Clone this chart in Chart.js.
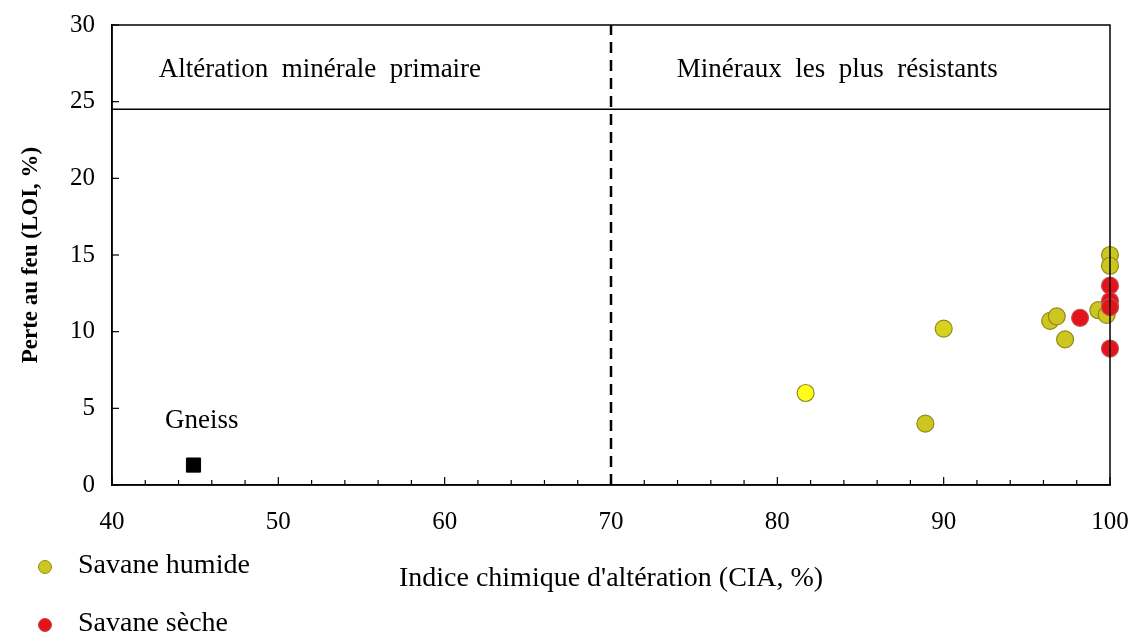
<!DOCTYPE html>
<html>
<head>
<meta charset="utf-8">
<script src="https://cdn.jsdelivr.net/npm/chart.js@4.4.0/dist/chart.umd.min.js"></script>
<style>
  body { margin: 0; background: #fff; }
</style>
</head>
<body>
<canvas id="graficoCIA" width="1137" height="643"></canvas>
<script>
var serif = '"Liberation Serif", "Times New Roman", serif'

// Savane humide (CIA, LOI)
var humideCIA = [81.7, 88.9, 90.0, 96.4, 96.8, 97.3, 99.3, 99.8, 100, 100]
var humideLOI = [6.0, 4.0, 10.2, 10.7, 11.0, 9.5, 11.4, 11.1, 15.0, 14.3]
var humideCor = ['#ffff1a', '#cdc61e', '#d6d21e', '#cdc61e', '#cdc61e', '#cdc61e', '#cdc61e', '#cdc61e', '#cdc61e', '#cdc61e']

// Savane sèche
var secheCIA = [98.2, 100, 100, 100, 100]
var secheLOI = [10.9, 13.0, 12.0, 11.6, 8.9]

// roche mère
var gneissCIA = [44.9]
var gneissLOI = [1.3]

var limiteCIA = 70
var limiteBoite = 24.5

var xTicks = [40, 50, 60, 70, 80, 90, 100]
var yTicks = [0, 5, 10, 15, 20, 25, 30]

function pontos(xs, ys) {
  var lista = []
  for (var i = 0; i < xs.length; i++) {
    lista.push({ x: xs[i], y: ys[i] })
  }
  return lista
}

// textes, marques internes et légende
var extras = {
  id: 'extras',
  afterDraw: function (chart) {
    var ctx = chart.ctx
    var area = chart.chartArea
    var sx = chart.scales.x
    var sy = chart.scales.y
    ctx.save()

    ctx.strokeStyle = '#000'
    ctx.lineWidth = 1.5
    ctx.strokeRect(area.left, area.top, area.right - area.left, area.bottom - area.top)

    // petites marques vers l'intérieur
    ctx.lineWidth = 1.2
    for (var v = 40; v <= 100; v += 2) {
      var px = sx.getPixelForValue(v)
      var len = (v % 10 == 0) ? 8 : 5
      ctx.beginPath()
      ctx.moveTo(px, area.bottom)
      ctx.lineTo(px, area.bottom - len)
      ctx.stroke()
    }
    for (var j = 0; j < yTicks.length; j++) {
      var py = sy.getPixelForValue(yTicks[j])
      ctx.beginPath()
      ctx.moveTo(area.left, py)
      ctx.lineTo(area.left + 7, py)
      ctx.stroke()
    }

    ctx.fillStyle = '#000'
    ctx.font = '27px ' + serif
    ctx.textAlign = 'center'
    ctx.textBaseline = 'middle'
    ctx.fillText('Altération  minérale  primaire', sx.getPixelForValue(52.5), sy.getPixelForValue(27.1))
    ctx.fillText('Minéraux  les  plus  résistants', sx.getPixelForValue(83.6), sy.getPixelForValue(27.1))
    ctx.fillText('Gneiss', sx.getPixelForValue(45.4), sy.getPixelForValue(4.2))

    // légende
    var legenda = [
      { nome: 'Savane humide', fundo: '#cdc61e', borda: '#8f8a1c', y: 567 },
      { nome: 'Savane sèche', fundo: '#e3131b', borda: '#c04848', y: 625 }
    ]
    ctx.font = '28px ' + serif
    ctx.textAlign = 'left'
    for (var k = 0; k < legenda.length; k++) {
      ctx.beginPath()
      ctx.arc(45, legenda[k].y, 6.5, 0, Math.PI * 2)
      ctx.fillStyle = legenda[k].fundo
      ctx.fill()
      ctx.strokeStyle = legenda[k].borda
      ctx.lineWidth = 1
      ctx.stroke()
      ctx.fillStyle = '#000'
      ctx.fillText(legenda[k].nome, 78, legenda[k].y - 1)
    }
    ctx.restore()
  }
}

var ctx = document.getElementById('graficoCIA')

var grafico = new Chart(ctx, {
  type: 'scatter',
  data: {
    datasets: [
      {
        label: 'limite',
        type: 'line',
        data: pontos([limiteCIA, limiteCIA], [0, 30]),
        borderColor: '#000',
        borderWidth: 2.5,
        borderDash: [11, 7],
        pointRadius: 0,
        order: 5
      },
      {
        label: 'boite',
        type: 'line',
        data: pontos([40, 100], [limiteBoite, limiteBoite]),
        borderColor: '#000',
        borderWidth: 1.5,
        pointRadius: 0,
        order: 5
      },
      {
        label: 'Gneiss',
        data: pontos(gneissCIA, gneissLOI),
        pointStyle: 'rect',
        pointRadius: 10,
        backgroundColor: '#000',
        borderColor: '#000',
        clip: false,
        order: 1
      },
      {
        label: 'Savane humide',
        data: pontos(humideCIA, humideLOI),
        pointRadius: 8.5,
        backgroundColor: humideCor,
        borderColor: '#8f8a1c',
        borderWidth: 1.2,
        clip: false,
        order: 2
      },
      {
        label: 'Savane sèche',
        data: pontos(secheCIA, secheLOI),
        pointRadius: 8.5,
        backgroundColor: '#e3131b',
        borderColor: '#c65050',
        borderWidth: 1.2,
        clip: false,
        order: 1
      }
    ]
  },
  options: {
    responsive: false,
    animation: false,
    layout: { padding: { left: 0, right: 27, top: 25, bottom: 0 } },
    plugins: {
      legend: { display: false },
      tooltip: { enabled: false }
    },
    scales: {
      x: {
        type: 'linear',
        min: 40,
        max: 100,
        afterFit: function (scale) {
          scale.height = 158
          scale.paddingLeft = 0
          scale.paddingRight = 0
        },
        afterBuildTicks: function (scale) {
          scale.ticks = xTicks.map(function (v) { return { value: v } })
        },
        grid: { drawOnChartArea: false, drawTicks: false },
        border: { display: true, color: '#000', width: 1.5 },
        ticks: {
          padding: 22,
          color: '#000',
          font: { family: serif, size: 25 }
        },
        title: {
          display: true,
          text: "Indice chimique d'altération (CIA, %)",
          color: '#000',
          font: { family: serif, size: 28 },
          padding: { top: 0, bottom: 48 }
        }
      },
      y: {
        type: 'linear',
        min: 0,
        max: 30,
        afterFit: function (scale) {
          scale.width = 112
          scale.paddingTop = 0
          scale.paddingBottom = 0
        },
        afterBuildTicks: function (scale) {
          scale.ticks = yTicks.map(function (v) { return { value: v } })
        },
        grid: { drawOnChartArea: false, drawTicks: false },
        border: { display: true, color: '#000', width: 1.5 },
        ticks: {
          padding: 17,
          color: '#000',
          font: { family: serif, size: 25 }
        },
        title: {
          display: true,
          text: 'Perte au feu (LOI, %)',
          color: '#000',
          font: { family: serif, size: 23, weight: 'bold' },
          padding: { top: 17, bottom: 0 }
        }
      }
    }
  },
  plugins: [extras]
})
</script>
</body>
</html>
